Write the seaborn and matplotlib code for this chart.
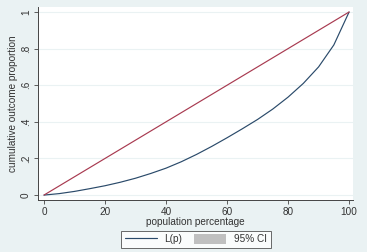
import numpy as np
import pandas as pd
import seaborn as sns
from matplotlib import pyplot as plt
from matplotlib.lines import Line2D
from matplotlib.patches import Patch

# population percentage and Lorenz ordinates
pop_pct = [0, 5, 10, 15, 20, 25, 30, 35, 40, 45, 50,
           55, 60, 65, 70, 75, 80, 85, 90, 95, 100]
lorenz = [0, 0.008, 0.02, 0.035, 0.051, 0.07, 0.092, 0.118, 0.147, 0.182, 0.222,
          0.266, 0.313, 0.362, 0.413, 0.47, 0.535, 0.61, 0.70, 0.82, 1.0]
equality_x = [0, 100]
equality_y = [0, 1]
y_ticks = [0, 0.2, 0.4, 0.6, 0.8, 1]
y_labels = ['0', '.2', '.4', '.6', '.8', '1']
x_ticks = [0, 20, 40, 60, 80, 100]

sns.set_style('white')
plt.rcParams['font.family'] = ['Liberation Sans', 'DejaVu Sans']

bg = '#eaf2f3'
navy = '#2a4a6a'
maroon = '#a83a50'
txt = '#333333'

df = pd.DataFrame({'p': pop_pct, 'L': lorenz})
eq = pd.DataFrame({'p': equality_x, 'L': equality_y})

fig = plt.figure(figsize=(3.67, 2.52), dpi=100, facecolor=bg)
ax = fig.add_axes([0.1035, 0.2063, 0.8585, 0.7657])
ax.set_facecolor('white')

sns.lineplot(data=df, x='p', y='L', ax=ax, color=navy, linewidth=0.85)
sns.lineplot(data=eq, x='p', y='L', ax=ax, color=maroon, linewidth=0.85)

ax.set_xlim(-1.97, 101.3)
ax.set_ylim(-0.027, 1.027)
ax.set_xticks(x_ticks)
ax.set_xticklabels([str(t) for t in x_ticks])
ax.set_yticks(y_ticks)
ax.set_yticklabels(y_labels, rotation=90, va='center')
ax.yaxis.grid(True, color=bg, linewidth=0.8)
ax.set_axisbelow(True)

for s in ['top', 'right']:
    ax.spines[s].set_visible(False)
for s in ['left', 'bottom']:
    ax.spines[s].set_color('#444444')
    ax.spines[s].set_linewidth(0.7)
ax.tick_params(axis='both', direction='out', length=3, width=0.6, color='#444444',
               labelcolor=txt, labelsize=7.2, pad=2, bottom=True, left=True)

ax.set_xlabel('population percentage', fontsize=7.2, labelpad=0, color=txt)
ax.set_ylabel('cumulative outcome proportion', fontsize=7.2, labelpad=2, color=txt)

handles = [Line2D([0], [0], color=navy, linewidth=0.85),
           Patch(facecolor='#c0c0c0', edgecolor='none')]
leg = fig.legend(handles, ['L(p)', '95% CI'], loc='center', bbox_to_anchor=(0.534, 0.05),
                 ncol=2, fontsize=7.2, frameon=True, fancybox=False, handlelength=3.2,
                 handleheight=1.1, handletextpad=0.8, columnspacing=1.2, borderpad=0.35)
leg.get_frame().set_edgecolor('#444444')
leg.get_frame().set_linewidth(0.7)
leg.get_frame().set_facecolor('white')
for t in leg.get_texts():
    t.set_color(txt)

fig.savefig('out.png', dpi=100, facecolor=bg)
